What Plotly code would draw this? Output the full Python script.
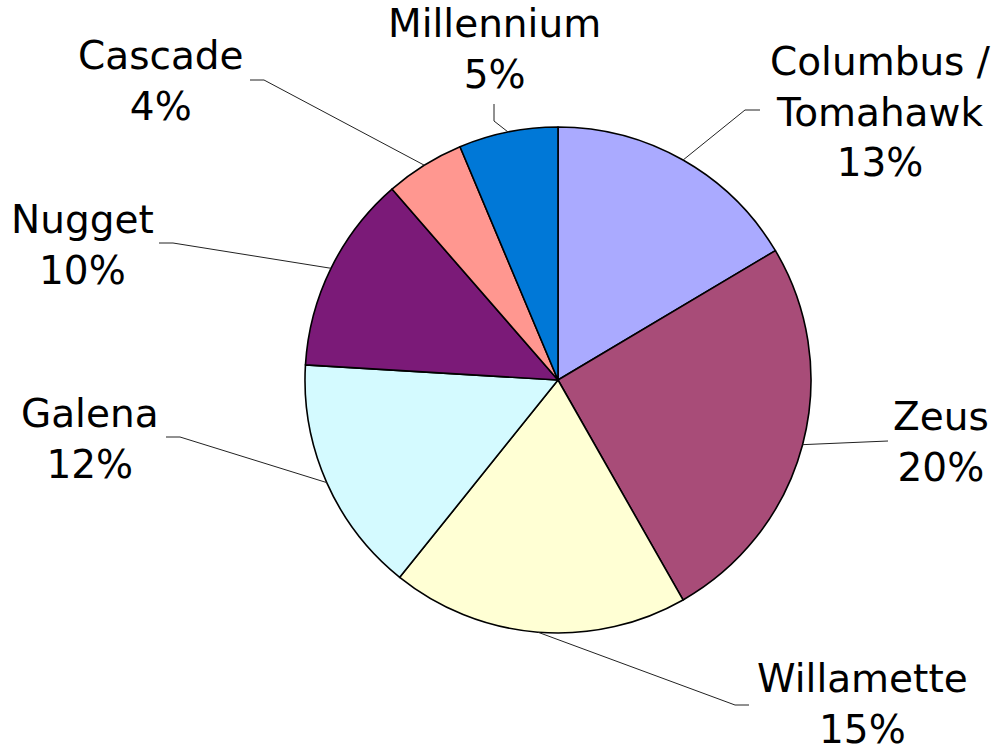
import math
import plotly.graph_objects as go

# ---- data ----
hops = ["Columbus /<br>Tomahawk", "Zeus", "Willamette", "Galena", "Nugget", "Cascade", "Millennium"]
shares = [13, 20, 15, 12, 10, 4, 5]
colors = ["#AAAAFF", "#A84C78", "#FFFFD4", "#D4FAFF", "#7B1A78", "#FF9790", "#0078D7"]

# ---- layout (pixels) ----
W, H = 997, 749
CX, CY, R = 558, 380, 253
# label block centres and leader elbow points (pixels)
label_pos = [(880, 112), (941, 442), (862, 704), (90, 439), (82, 245), (161, 81), (494, 49)]
elbows = [[(745, 110), (760, 110)],
          [(888, 441)],
          [(735, 705), (749, 705)],
          [(180, 437), (166, 437)],
          [(173, 243), (159, 243)],
          [(264, 80), (250, 80)],
          [(494, 121), (494, 104)]]

def px(x, y):
    return x / W, 1 - y / H

fig = go.Figure(go.Pie(
    labels=hops, values=shares, sort=False, direction="clockwise", rotation=0,
    marker=dict(colors=colors, line=dict(color="black", width=1.6)),
    textinfo="none", hoverinfo="label+value", showlegend=False,
    domain=dict(x=[(CX - R) / W, (CX + R) / W], y=[(H - CY - R) / H, (H - CY + R) / H]),
))

total = sum(shares)
cum = 0
shapes, annotations = [], []
for i, (name, v) in enumerate(zip(hops, shares)):
    mid = (cum + v / 2) / total * 2 * math.pi
    cum += v
    ex, ey = CX + R * math.sin(mid), CY - R * math.cos(mid)
    pts = [(ex, ey)] + elbows[i]
    for (x0, y0), (x1, y1) in zip(pts[:-1], pts[1:]):
        a0, b0 = px(x0, y0)
        a1, b1 = px(x1, y1)
        shapes.append(dict(type="line", xref="paper", yref="paper", x0=a0, y0=b0, x1=a1, y1=b1,
                           line=dict(color="#222222", width=1)))
    lx, ly = px(*label_pos[i])
    annotations.append(dict(xref="paper", yref="paper", x=lx, y=ly, xanchor="center", yanchor="middle",
                            text=f"{name}<br>{v}%", showarrow=False, align="center",
                            font=dict(family="DejaVu Sans", size=39, color="black")))

fig.update_layout(width=W, height=H, margin=dict(l=0, r=0, t=0, b=0),
                  paper_bgcolor="white", plot_bgcolor="white",
                  shapes=shapes, annotations=annotations)
fig.write_html("out.html", config={"displayModeBar": False})

# remove the default page margin so the figure sits at the window's corner
with open("out.html", encoding="utf-8") as f:
    html = f.read()
html = html.replace("<head>", "<head><style>html,body{margin:0;padding:0;overflow:hidden;}</style>", 1)
with open("out.html", "w", encoding="utf-8") as f:
    f.write(html)
